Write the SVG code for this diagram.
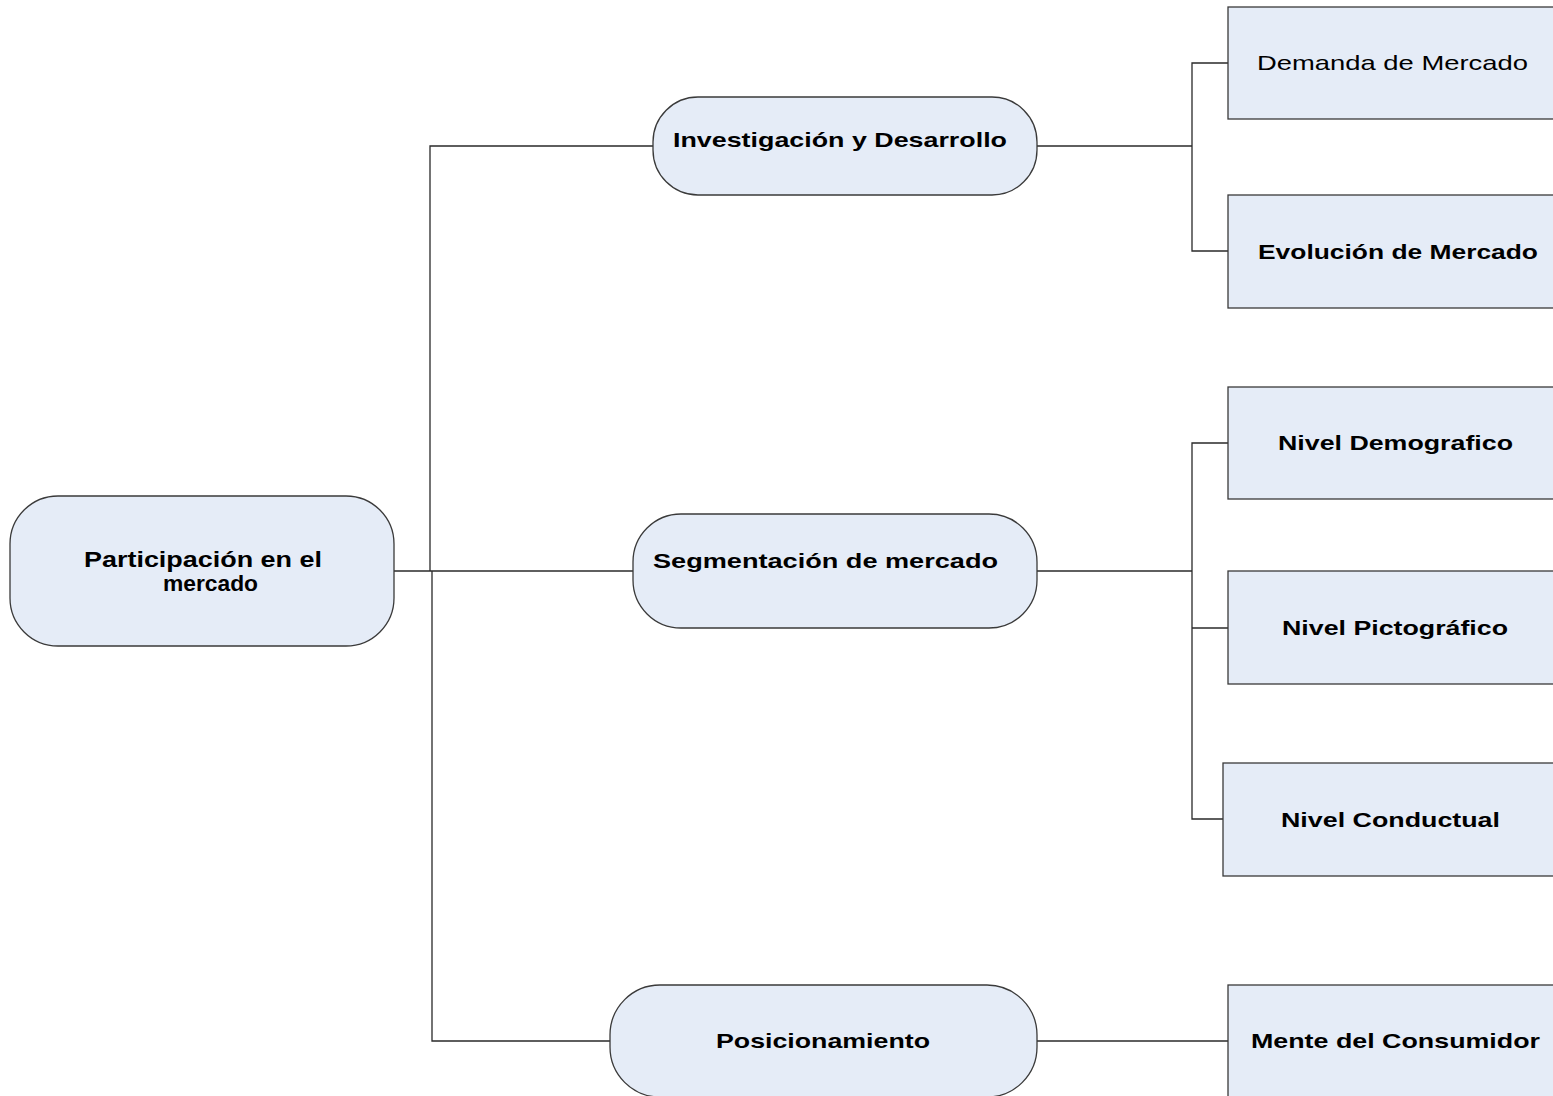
<svg xmlns="http://www.w3.org/2000/svg" width="1553" height="1096" viewBox="0 0 1553 1096">
  <style>
    .pill { fill: #E5ECF7; stroke: #3a3a3a; stroke-width: 1.3; }
    .box { fill: #E5ECF7; stroke: #3a3a3a; stroke-width: 1.3; }
    .wire { fill: none; stroke: #2a2a2a; stroke-width: 1.3; }
    .lbl { font-family: "Liberation Sans", Arial, sans-serif; font-size: 21px; fill: #000; }
    .b { font-weight: bold; }
  </style>
  <rect width="1553" height="1096" fill="#ffffff"/>

  <!-- connectors -->
  <g id="connectors">
    <path class="wire" d="M394 571 H633"/>
    <path class="wire" d="M430 571 V146 H653"/>
    <path class="wire" d="M432 571 V1041 H610"/>
    <path class="wire" d="M1037 146 H1192"/>
    <path class="wire" d="M1228 63 H1192 V251 H1228"/>
    <path class="wire" d="M1037 571 H1192"/>
    <path class="wire" d="M1228 443 H1192 V819 H1223"/>
    <path class="wire" d="M1192 628 H1228"/>
    <path class="wire" d="M1037 1041 H1228"/>
  </g>

  <!-- root -->
  <g id="node-participacion">
    <rect class="pill" x="10" y="496" width="384" height="150" rx="48" ry="48"/>
    <text class="lbl b" x="84" y="567" textLength="238" lengthAdjust="spacingAndGlyphs" style="font-size:22px">Participación en el</text>
    <text class="lbl b" x="163" y="591" textLength="95" lengthAdjust="spacingAndGlyphs" style="font-size:22px">mercado</text>
  </g>

  <!-- second level -->
  <g id="node-investigacion">
    <rect class="pill" x="653" y="97" width="384" height="98" rx="45" ry="45"/>
    <text class="lbl b" x="673" y="147" textLength="334" lengthAdjust="spacingAndGlyphs">Investigación y Desarrollo</text>
  </g>
  <g id="node-segmentacion">
    <rect class="pill" x="633" y="514" width="404" height="114" rx="48" ry="48"/>
    <text class="lbl b" x="653" y="568" textLength="345" lengthAdjust="spacingAndGlyphs">Segmentación de mercado</text>
  </g>
  <g id="node-posicionamiento">
    <rect class="pill" x="610" y="985" width="427" height="112" rx="50" ry="50"/>
    <text class="lbl b" x="716" y="1048" textLength="214" lengthAdjust="spacingAndGlyphs">Posicionamiento</text>
  </g>

  <!-- third level -->
  <g id="node-demanda">
    <rect class="box" x="1228" y="7" width="400" height="112"/>
    <text class="lbl" x="1257" y="70" textLength="271" lengthAdjust="spacingAndGlyphs">Demanda de Mercado</text>
  </g>
  <g id="node-evolucion">
    <rect class="box" x="1228" y="195" width="400" height="113"/>
    <text class="lbl b" x="1258" y="259" textLength="280" lengthAdjust="spacingAndGlyphs">Evolución de Mercado</text>
  </g>
  <g id="node-demografico">
    <rect class="box" x="1228" y="387" width="400" height="112"/>
    <text class="lbl b" x="1278" y="450" textLength="235" lengthAdjust="spacingAndGlyphs">Nivel Demografico</text>
  </g>
  <g id="node-pictografico">
    <rect class="box" x="1228" y="571" width="400" height="113"/>
    <text class="lbl b" x="1282" y="635" textLength="226" lengthAdjust="spacingAndGlyphs">Nivel Pictográfico</text>
  </g>
  <g id="node-conductual">
    <rect class="box" x="1223" y="763" width="400" height="113"/>
    <text class="lbl b" x="1281" y="827" textLength="219" lengthAdjust="spacingAndGlyphs">Nivel Conductual</text>
  </g>
  <g id="node-mente">
    <rect class="box" x="1228" y="985" width="400" height="130"/>
    <text class="lbl b" x="1251" y="1048" textLength="289" lengthAdjust="spacingAndGlyphs">Mente del Consumidor</text>
  </g>
</svg>
